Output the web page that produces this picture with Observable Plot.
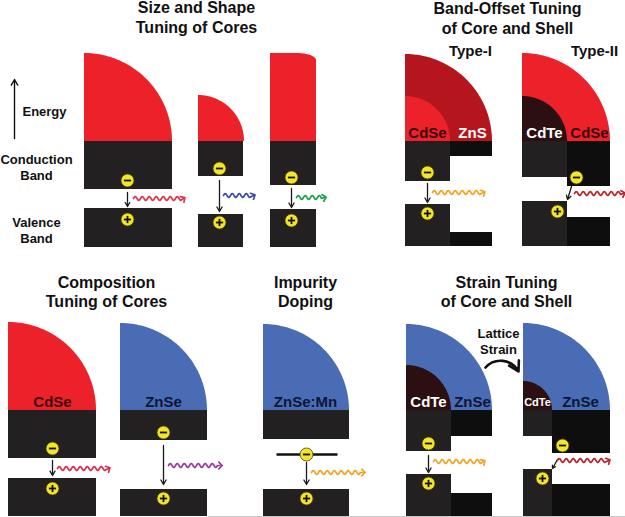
<!DOCTYPE html>
<html><head><meta charset="utf-8">
<script src="https://cdn.jsdelivr.net/npm/d3@7"></script>
<script src="https://cdn.jsdelivr.net/npm/@observablehq/plot@0.6"></script>
<style>body{margin:0;background:#fff}</style>
</head><body>
<div id="chart"></div>
<script>
// ---- data ----
const panelTitles = [
  {text: "Size and Shape", x: 196, y: 12},
  {text: "Tuning of Cores", x: 196, y: 32},
  {text: "Band-Offset Tuning", x: 507, y: 13},
  {text: "of Core and Shell", x: 507, y: 33},
  {text: "Composition", x: 106, y: 287},
  {text: "Tuning of Cores", x: 106, y: 306},
  {text: "Impurity", x: 305, y: 287},
  {text: "Doping", x: 305, y: 306},
  {text: "Strain Tuning", x: 506, y: 287},
  {text: "of Core and Shell", x: 506, y: 306}
];
const typeLabels = [
  {text: "Type-I", x: 470, y: 55},
  {text: "Type-II", x: 594, y: 55}
];
const sideLabels = [
  {text: "Energy", x: 44, y: 115},
  {text: "Conduction", x: 36, y: 163},
  {text: "Band", x: 36, y: 179},
  {text: "Valence", x: 36, y: 226},
  {text: "Band", x: 36, y: 242},
  {text: "Lattice", x: 498, y: 337},
  {text: "Strain", x: 498, y: 353}
];
const colors = {
  CdSe: "#ec2129", ZnS: "#b5161e", ZnSe: "#4a6cb5",
  CdTe: "#2c0f10", core: "#232021", shell: "#0e0e0f"
};
// quarter-circle cores and shells (material, centre, radius)
const quarters = [
  {material: "CdSe", cx: 84, cy: 141, r: 88},
  {material: "CdSe", cx: 198, cy: 141, r: 46},
  {material: "ZnS", cx: 405, cy: 141, r: 87},
  {material: "CdSe", cx: 405, cy: 141, r: 45},
  {material: "CdSe", cx: 522, cy: 141, r: 88},
  {material: "CdTe", cx: 522, cy: 141, r: 45},
  {material: "CdSe", cx: 8, cy: 410, r: 88},
  {material: "ZnSe", cx: 120, cy: 410, r: 87},
  {material: "ZnSe", cx: 263, cy: 410, r: 86},
  {material: "ZnSe", cx: 406, cy: 410, r: 86},
  {material: "CdTe", cx: 406, cy: 410, r: 45},
  {material: "ZnSe", cx: 523, cy: 410, r: 87},
  {material: "CdTe", cx: 523, cy: 410, r: 29}
];
// rod (shape tuning): left, right, top, bottom, corner radii
const rods = [{material: "CdSe", x1: 270, x2: 316, top: 53, bottom: 141, rx: 20, ry: 7}];
// conduction / valence band blocks
const bands = [
  {layer: "core", x1: 84, x2: 172, y1: 141, y2: 189},
  {layer: "core", x1: 84, x2: 172, y1: 208, y2: 247},
  {layer: "core", x1: 198, x2: 243, y1: 141, y2: 176},
  {layer: "core", x1: 198, x2: 243, y1: 214, y2: 247},
  {layer: "core", x1: 270, x2: 316, y1: 141, y2: 185},
  {layer: "core", x1: 270, x2: 316, y1: 209, y2: 247},
  {layer: "core", x1: 405, x2: 450, y1: 141, y2: 181},
  {layer: "shell", x1: 450, x2: 492, y1: 141, y2: 156},
  {layer: "core", x1: 405, x2: 450, y1: 204, y2: 246},
  {layer: "shell", x1: 450, x2: 492, y1: 232, y2: 246},
  {layer: "core", x1: 522, x2: 567, y1: 141, y2: 177},
  {layer: "shell", x1: 567, x2: 610, y1: 141, y2: 186},
  {layer: "core", x1: 522, x2: 567, y1: 201, y2: 246},
  {layer: "shell", x1: 567, x2: 610, y1: 217, y2: 246},
  {layer: "core", x1: 8, x2: 96, y1: 410, y2: 458},
  {layer: "core", x1: 8, x2: 96, y1: 478, y2: 516},
  {layer: "core", x1: 120, x2: 207, y1: 410, y2: 440},
  {layer: "core", x1: 120, x2: 207, y1: 489, y2: 516},
  {layer: "core", x1: 263, x2: 349, y1: 410, y2: 439},
  {layer: "core", x1: 263, x2: 349, y1: 489, y2: 516},
  {layer: "core", x1: 406, x2: 451, y1: 410, y2: 451},
  {layer: "shell", x1: 451, x2: 492, y1: 410, y2: 436},
  {layer: "core", x1: 406, x2: 451, y1: 474, y2: 516},
  {layer: "shell", x1: 451, x2: 492, y1: 493, y2: 516},
  {layer: "core", x1: 523, x2: 552, y1: 410, y2: 436},
  {layer: "shell", x1: 552, x2: 610, y1: 410, y2: 453},
  {layer: "core", x1: 523, x2: 552, y1: 469, y2: 516},
  {layer: "shell", x1: 552, x2: 610, y1: 484, y2: 516}
];
const materialLabels = [
  {text: "CdSe", x: 427, y: 137, tone: "dark", size: 15},
  {text: "ZnS", x: 472, y: 137, tone: "light", size: 15},
  {text: "CdTe", x: 544, y: 137, tone: "light", size: 15},
  {text: "CdSe", x: 589, y: 137, tone: "dark", size: 15},
  {text: "CdSe", x: 52, y: 406, tone: "dark", size: 15},
  {text: "ZnSe", x: 163, y: 406, tone: "navy", size: 15},
  {text: "ZnSe:Mn", x: 305, y: 406, tone: "navy", size: 15},
  {text: "CdTe", x: 428, y: 406, tone: "light", size: 15},
  {text: "ZnSe", x: 472, y: 406, tone: "navy", size: 15},
  {text: "CdTe", x: 537, y: 405, tone: "light", size: 11},
  {text: "ZnSe", x: 580, y: 406, tone: "navy", size: 15}
];
const toneColors = {dark: "#3a0a0c", light: "#ffffff", navy: "#0c1633"};
const electrons = [
  {x: 127, y: 180}, {x: 219, y: 168}, {x: 291, y: 177}, {x: 427, y: 172}, {x: 576, y: 177},
  {x: 52, y: 448}, {x: 163, y: 432}, {x: 306, y: 454}, {x: 428, y: 443}, {x: 562, y: 445}
];
const holes = [
  {x: 127, y: 219}, {x: 219, y: 222}, {x: 291, y: 220}, {x: 427, y: 213}, {x: 557, y: 211},
  {x: 52, y: 488}, {x: 163, y: 498}, {x: 306, y: 498}, {x: 428, y: 483}, {x: 542, y: 478}
];
const transitions = [
  {x1: 127, y1: 192, x2: 127, y2: 206}, {x1: 219, y1: 180, x2: 219, y2: 211},
  {x1: 291, y1: 188, x2: 291, y2: 207}, {x1: 427, y1: 183, x2: 427, y2: 202},
  {x1: 571, y1: 186, x2: 567, y2: 199}, {x1: 52, y1: 460, x2: 52, y2: 475},
  {x1: 163, y1: 445, x2: 163, y2: 484}, {x1: 306, y1: 462, x2: 306, y2: 484},
  {x1: 428, y1: 455, x2: 428, y2: 472}, {x1: 557, y1: 459, x2: 552, y2: 468}
];
const emissions = [
  {x1: 133, x2: 183, y: 198, color: "#de3550"},
  {x1: 223, x2: 253, y: 195, color: "#3c4aa8"},
  {x1: 296, x2: 324, y: 197, color: "#1ea050"},
  {x1: 432, x2: 483, y: 192, color: "#f4a224"},
  {x1: 574, x2: 623, y: 193, color: "#b8262c"},
  {x1: 57, x2: 108, y: 468, color: "#d8304c"},
  {x1: 168, x2: 220, y: 465, color: "#9c3aa0"},
  {x1: 311, x2: 363, y: 472, color: "#f4a224"},
  {x1: 433, x2: 483, y: 461, color: "#f4a224"},
  {x1: 557, x2: 608, y: 460, color: "#b8262c"}
];
const dopantLevels = [{x1: 276, x2: 337, y: 454}];
const energyAxis = [{x1: 14, y1: 138, x2: 14, y2: 79}];
const strainArrow = [{x1: 485, y1: 367, x2: 518, y2: 371}];

// ---- geometry helpers (shape outlines) ----
function arcPoints(q) {
  const pts = [];
  for (let i = 0; i <= 90; i++) {
    const t = Math.PI / 2 * (1 - i / 90);
    pts.push({x: q.cx + q.r * Math.cos(t), y1: q.cy, y2: q.cy - q.r * Math.sin(t)});
  }
  return pts;
}
function rodPoints(d) {
  const pts = [{x: d.x1, y1: d.bottom, y2: d.top}];
  const cx = d.x2 - d.rx, cy = d.top + d.ry;
  for (let i = 0; i <= 30; i++) {
    const t = Math.PI / 2 * (1 - i / 30);
    pts.push({x: cx + d.rx * Math.cos(t), y1: d.bottom, y2: cy - d.ry * Math.sin(t)});
  }
  return pts;
}
function wavePoints(w) {
  const pts = [], amp = 2, lambda = 7, end = w.x2 - 3;
  for (let x = w.x1; x <= end; x += 0.5) pts.push({x, y: w.y - amp * Math.sin(2 * Math.PI * (x - w.x1) / lambda)});
  pts.push({x: w.x2, y: w.y});
  return pts;
}

const font = "'Liberation Sans', Arial, Helvetica, sans-serif";
const marks = [];
quarters.forEach(q => marks.push(Plot.area(arcPoints(q), {x1: "x", y1: "y1", y2: "y2", fill: colors[q.material]})));
rods.forEach(d => marks.push(Plot.area(rodPoints(d), {x1: "x", y1: "y1", y2: "y2", fill: colors[d.material]})));
marks.push(Plot.rect(bands, {x1: "x1", x2: "x2", y1: "y1", y2: "y2", fill: d => colors[d.layer]}));
marks.push(Plot.ruleY([516], {x1: 208, x2: 625, stroke: "#c9c9c9", strokeWidth: 1}));
marks.push(Plot.link(dopantLevels, {x1: "x1", x2: "x2", y1: "y", y2: "y", stroke: "#111", strokeWidth: 2.5}));
marks.push(Plot.arrow(transitions, {x1: "x1", y1: "y1", x2: "x2", y2: "y2", stroke: "#1a1a1a", strokeWidth: 1.3, headLength: 6}));
marks.push(Plot.arrow(energyAxis, {x1: "x1", y1: "y1", x2: "x2", y2: "y2", stroke: "#111", strokeWidth: 1.4, headLength: 7}));
marks.push(Plot.arrow(strainArrow, {x1: "x1", y1: "y1", x2: "x2", y2: "y2", stroke: "#111", strokeWidth: 2.6, headLength: 8, bend: 55}));
emissions.forEach(w => marks.push(Plot.line(wavePoints(w), {x: "x", y: "y", stroke: w.color, strokeWidth: 1.7, markerEnd: "arrow"})));
const charges = electrons.concat(holes);
marks.push(Plot.dot(charges, {x: "x", y: "y", r: 6.5, fill: "#f5e52a", stroke: "#4a4410", strokeWidth: 0.8}));
marks.push(Plot.link(charges, {x1: d => d.x - 3.6, x2: d => d.x + 3.6, y1: "y", y2: "y", stroke: "#111", strokeWidth: 1.8}));
marks.push(Plot.link(holes, {x1: "x", x2: "x", y1: d => d.y - 3.6, y2: d => d.y + 3.6, stroke: "#111", strokeWidth: 1.8}));
marks.push(Plot.text(panelTitles, {x: "x", y: "y", text: "text", fontSize: 16, fontWeight: "bold", fill: "#111", lineAnchor: "bottom", textAnchor: "middle"}));
marks.push(Plot.text(typeLabels, {x: "x", y: "y", text: "text", fontSize: 15, fontWeight: "bold", fill: "#111", lineAnchor: "bottom", textAnchor: "middle"}));
marks.push(Plot.text(sideLabels, {x: "x", y: "y", text: "text", fontSize: 13, fontWeight: "bold", fill: "#111", lineAnchor: "bottom", textAnchor: "middle"}));
marks.push(Plot.text(materialLabels, {x: "x", y: "y", text: "text", fontSize: d => d.size, fontWeight: "bold", fill: d => toneColors[d.tone], lineAnchor: "bottom", textAnchor: "middle"}));

const chart = Plot.plot({
  width: 625, height: 517, margin: 0,
  x: {domain: [0, 625], range: [0, 625], axis: null},
  y: {domain: [0, 517], range: [0, 517], axis: null},
  style: {background: "#fff", fontFamily: font},
  marks
});
document.getElementById("chart").append(chart);
</script>
</body></html>
